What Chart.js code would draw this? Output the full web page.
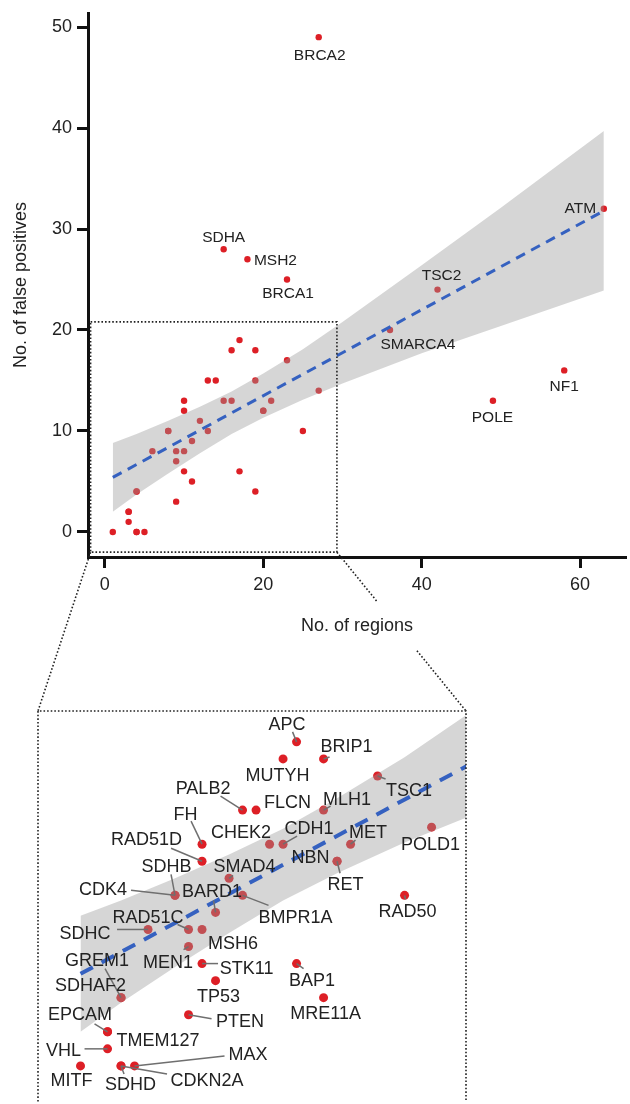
<!DOCTYPE html>
<html lang="en">
<head>
<meta charset="UTF-8">
<title>False positives vs number of regions</title>
<script src="https://cdn.jsdelivr.net/npm/chart.js"></script>
<style>
  body { margin: 0; background: #fff; }
  .page { position: relative; width: 630px; height: 1104px; overflow: hidden; }
  canvas { position: absolute; left: 0; top: 0; }
</style>
</head>
<body>
<div class="page">
  <canvas id="mainChart" width="630" height="640"></canvas>
  <canvas id="insetChart" width="630" height="1104"></canvas>
</div>
<script>
  // data
  const genes = ['BRCA2','SDHA','MSH2','BRCA1','ATM','TSC2','SMARCA4','NF1','POLE',
    'APC','MUTYH','BRIP1','PALB2','FLCN','MLH1','TSC1','FH','RAD51D','CHEK2','CDH1','MET','NBN','RET','POLD1',
    'SMAD4','CDK4','SDHB','BARD1','BMPR1A','RAD50','RAD51C','MSH6','SDHC','MEN1','STK11','BAP1','TP53',
    'GREM1','SDHAF2','MRE11A','PTEN','EPCAM','TMEM127','VHL','MITF','SDHD','CDKN2A','MAX'];
  const regions = [27,15,18,23,63,42,36,58,49,
    17,16,19,13,14,19,23,10,10,15,16,21,20,20,27,
    12,8,8,11,13,25,9,10,6,9,10,17,11,
    4,4,19,9,3,3,3,1,4,4,5];
  const falsePositives = [49,28,27,25,32,24,20,16,13,
    19,18,18,15,15,15,17,13,12,13,13,13,12,12,14,
    11,10,10,9,10,10,8,8,8,7,6,6,5,
    4,4,4,3,2,2,1,0,0,0,0];

  // linear fit and its confidence band
  const fitX = [1, 63];
  const fitY = [5.4, 31.8];
  const bandX = [1, 4, 8, 12, 16, 20, 25, 30, 40, 50, 63];
  const bandLower = [2.0, 3.7, 5.8, 7.8, 9.7, 11.3, 13.1, 14.7, 17.7, 20.4, 23.9];
  const bandUpper = [8.8, 9.7, 11.0, 12.4, 13.9, 15.7, 18.1, 20.8, 26.4, 32.1, 39.7];

  const xTicks = [0, 20, 40, 60];
  const yTicks = [0, 10, 20, 30, 40, 50];

  // zoomed region (data units)
  const boxX = [-1.8, 29.3];
  const boxY = [-2.0, 20.8];
  const insetX = [-2.15, 29.55];
  const insetY = [-1.97, 20.81];

  // label placement: text centre offset from the point [dx, dy], optional leader end
  const mainLabels = {
    BRCA2: [1, 17], SDHA: [0, -13], MSH2: [28, 0], BRCA1: [1, 13], ATM: [-23.5, -1],
    TSC2: [4, -15], SMARCA4: [28, 13], NF1: [0, 15], POLE: [-0.5, 16]
  };
  const insetLabels = {
    APC: { t: [-9.5, -18], l: [-4, -10] },
    MUTYH: { t: [-5.5, 16] },
    BRIP1: { t: [23, -13], l: [6, -2] },
    PALB2: { t: [-39.5, -23], l: [-22, -14] },
    FLCN: { t: [31.5, -9] },
    MLH1: { t: [23.5, -12], l: [7, -4] },
    TSC1: { t: [31.5, 14], l: [8, 3] },
    FH: { t: [-16.5, -31], l: [-11, -23] },
    RAD51D: { t: [-55.5, -23], l: [-31, -13] },
    CHEK2: { t: [-28.5, -13] },
    CDH1: { t: [26, -16.5], l: [14, -8] },
    MET: { t: [17.5, -13], l: [5, -4] },
    NBN: { t: [-26.5, -4.5] },
    RET: { t: [8.5, 22], l: [3, 12] },
    POLD1: { t: [-1, 16] },
    SMAD4: { t: [15.5, -13], l: [4, -3] },
    SDHB: { t: [-8.5, -30], l: [-4, -21] },
    CDK4: { t: [-72, -6.5], l: [-44, -5] },
    BARD1: { t: [-3.5, -21.5], l: [-2, -12] },
    BMPR1A: { t: [53, 21.5], l: [26, 10] },
    RAD50: { t: [3, 15], l: [1, 4] },
    RAD51C: { t: [-40.5, -13], l: [-11, -5] },
    MSH6: { t: [31, 13] },
    SDHC: { t: [-63, 3.5], l: [-31, 0] },
    MEN1: { t: [-20.5, 15], l: [-5, 3] },
    STK11: { t: [44.5, 3.5], l: [16, 0] },
    BAP1: { t: [15.5, 15.5], l: [7, 5] },
    TP53: { t: [3, 15] },
    GREM1: { t: [-24, -38], l: [-16, -29] },
    SDHAF2: { t: [-30.5, -13.5] },
    MRE11A: { t: [2, 14.5] },
    PTEN: { t: [51.5, 6], l: [23, 4] },
    EPCAM: { t: [-27.5, -18.5], l: [-13, -8] },
    TMEM127: { t: [50.5, 8] },
    VHL: { t: [-44, 1], l: [-23, 0] },
    MITF: { t: [-9, 14] },
    SDHD: { t: [9.5, 18], l: [3, 8] },
    CDKN2A: { t: [86, 13.5], l: [46, 8] },
    MAX: { t: [113.5, -12], l: [90, -10] }
  };

  const FONT = '"Liberation Sans", Arial, Helvetica, sans-serif';
  const INK = '#222';
  const RED = '#dd1f26';
  const BLUE = '#3561c0';
  const BAND = 'rgba(153,153,153,0.4)';

  const points = regions.map((x, i) => ({ x, y: falsePositives[i] }));
  const fitPts = fitX.map((x, i) => ({ x, y: fitY[i] }));
  const lowPts = bandX.map((x, i) => ({ x, y: bandLower[i] }));
  const upPts = bandX.map((x, i) => ({ x, y: bandUpper[i] }));

  function makeDatasets(r, lw, dash) {
    return [
      { data: points, pointRadius: r, pointBackgroundColor: RED, pointBorderWidth: 0, order: 2 },
      { type: 'line', data: lowPts, borderColor: 'rgba(0,0,0,0)', borderWidth: 0, pointRadius: 0, fill: false, order: 1 },
      { type: 'line', data: upPts, borderColor: 'rgba(0,0,0,0)', borderWidth: 0, pointRadius: 0, fill: '-1', backgroundColor: BAND, order: 1 },
      { type: 'line', data: fitPts, borderColor: BLUE, borderWidth: lw, borderDash: dash, pointRadius: 0, fill: false, order: 0 }
    ];
  }

  function drawLabel(ctx, text, px, py, t, l, size) {
    if (l) {
      ctx.strokeStyle = '#6f6f6f';
      ctx.lineWidth = 1.5;
      ctx.setLineDash([]);
      ctx.beginPath();
      ctx.moveTo(px, py);
      ctx.lineTo(px + l[0], py + l[1]);
      ctx.stroke();
    }
    ctx.fillStyle = INK;
    ctx.font = size + 'px ' + FONT;
    ctx.textAlign = 'center';
    ctx.textBaseline = 'alphabetic';
    ctx.fillText(text, px + t[0], py + t[1] + size * 0.358);
  }

  function dotted(ctx) {
    ctx.strokeStyle = '#222';
    ctx.lineWidth = 1.6;
    ctx.setLineDash([1.6, 2]);
  }

  const mainPlugin = {
    id: 'mainDecor',
    afterDatasetsDraw(chart) {
      const { ctx, scales: { x, y } } = chart;
      ctx.save();
      // zoom box
      dotted(ctx);
      const x0 = x.getPixelForValue(boxX[0]), x1 = x.getPixelForValue(boxX[1]);
      const y0 = y.getPixelForValue(boxY[0]), y1 = y.getPixelForValue(boxY[1]);
      ctx.strokeRect(x0, y1, x1 - x0, y0 - y1);
      // gene labels
      genes.forEach((g, i) => {
        const t = mainLabels[g];
        if (!t) return;
        drawLabel(ctx, g, x.getPixelForValue(regions[i]), y.getPixelForValue(falsePositives[i]), t, null, 15.5);
      });
      ctx.restore();
    }
  };

  const axisBase = {
    border: { display: true, color: '#111', width: 3 },
    grid: { drawOnChartArea: false, drawTicks: true, tickLength: 11, tickWidth: 3, tickColor: '#111' },
    ticks: { color: INK, font: { family: FONT, size: 18 }, maxRotation: 0 }
  };

  const mainChart = new Chart(document.getElementById('mainChart'), {
    type: 'scatter',
    data: { datasets: makeDatasets(3.2, 3, [10, 7]) },
    options: {
      responsive: false,
      animation: false,
      layout: { padding: { top: 13, left: 0, right: 0, bottom: 0 } },
      plugins: { legend: { display: false }, tooltip: { enabled: false } },
      scales: {
        x: {
          ...axisBase,
          type: 'linear', min: -2.13, max: 65.8,
          afterBuildTicks: s => { s.ticks = xTicks.map(v => ({ value: v })); },
          afterFit: s => { s.height = 83; s.paddingLeft = 0; s.paddingRight = 0; },
          ticks: { ...axisBase.ticks, padding: 6 },
          title: { display: true, text: 'No. of regions', color: INK, font: { family: FONT, size: 18 }, padding: { top: 0, bottom: 3 } }
        },
        y: {
          ...axisBase,
          type: 'linear', min: -2.48, max: 51.39,
          afterBuildTicks: s => { s.ticks = yTicks.map(v => ({ value: v })); },
          afterFit: s => { s.width = 88; s.paddingTop = 0; s.paddingBottom = 0; },
          ticks: { ...axisBase.ticks, padding: 5 },
          title: { display: true, text: 'No. of false positives', color: INK, font: { family: FONT, size: 18 }, padding: { top: 10, bottom: 0 } }
        }
      }
    },
    plugins: [mainPlugin]
  });

  const insetPlugin = {
    id: 'insetDecor',
    afterDatasetsDraw(chart) {
      const { ctx, scales: { x, y } } = chart;
      ctx.save();
      genes.forEach((g, i) => {
        const lab = insetLabels[g];
        if (!lab) return;
        drawLabel(ctx, g, x.getPixelForValue(regions[i]), y.getPixelForValue(falsePositives[i]), lab.t, lab.l, 18);
      });
      ctx.restore();
    },
    afterDraw(chart) {
      const { ctx, chartArea: a } = chart;
      const mx = mainChart.scales.x, my = mainChart.scales.y;
      ctx.save();
      dotted(ctx);
      // inset frame (bottom edge falls off the page)
      ctx.beginPath();
      ctx.moveTo(a.left, a.bottom + 2);
      ctx.lineTo(a.left, a.top);
      ctx.lineTo(a.right, a.top);
      ctx.lineTo(a.right, a.bottom + 2);
      ctx.stroke();
      // connectors from the zoom box to the inset
      const by = my.getPixelForValue(boxY[0]);
      const seg = (p, q, t0, t1) => {
        ctx.beginPath();
        ctx.moveTo(p[0] + (q[0] - p[0]) * t0, p[1] + (q[1] - p[1]) * t0);
        ctx.lineTo(p[0] + (q[0] - p[0]) * t1, p[1] + (q[1] - p[1]) * t1);
        ctx.stroke();
      };
      const pl = [mx.getPixelForValue(boxX[0]), by], ql = [a.left, a.top];
      const pr = [mx.getPixelForValue(boxX[1]), by], qr = [a.right, a.top];
      seg(pl, ql, 0, 1);
      seg(pr, qr, 0, 0.31);
      seg(pr, qr, 0.62, 1);
      ctx.restore();
    }
  };

  new Chart(document.getElementById('insetChart'), {
    type: 'scatter',
    data: { datasets: makeDatasets(4.5, 4, [14, 10]) },
    options: {
      responsive: false,
      animation: false,
      events: [],
      layout: { padding: { top: 711, left: 38, right: 164, bottom: 0 } },
      plugins: { legend: { display: false }, tooltip: { enabled: false } },
      scales: {
        x: { type: 'linear', display: false, min: insetX[0], max: insetX[1] },
        y: { type: 'linear', display: false, min: insetY[0], max: insetY[1] }
      }
    },
    plugins: [insetPlugin]
  });
</script>
</body>
</html>
